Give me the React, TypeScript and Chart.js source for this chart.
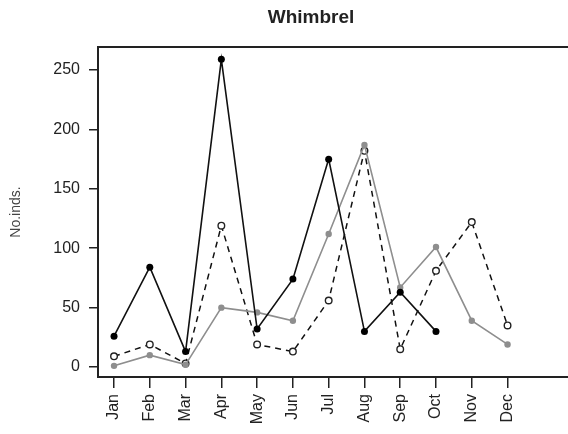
import React, { useEffect, useRef } from "react";
import { Chart, registerables } from "chart.js";

Chart.register(...registerables);

const months = ["Jan", "Feb", "Mar", "Apr", "May", "Jun", "Jul", "Aug", "Sep", "Oct", "Nov", "Dec"];
const blackSeries: (number | null)[] = [26, 84, 13, 259, 32, 74, 175, 30, 63, 30, null, null];
const greySeries: number[] = [1, 10, 2, 50, 46, 39, 112, 187, 67, 101, 39, 19];
const dashedSeries: number[] = [9, 19, 3, 119, 19, 13, 56, 182, 15, 81, 122, 35];
const yTicks = [0, 50, 100, 150, 200, 250];
const chartTitle = "Whimbrel";
const yTitle = "No.inds.";

const toPoints = (arr: (number | null)[]) =>
  arr.map((v, i) => ({ x: i + 1, y: v })).filter((p) => p.y !== null);

const frame = {
  id: "frame",
  afterDraw(chart: any) {
    const { ctx, chartArea } = chart;
    ctx.save();
    ctx.strokeStyle = "#222";
    ctx.lineWidth = 2;
    ctx.beginPath();
    ctx.moveTo(chartArea.left - 1, chartArea.top);
    ctx.lineTo(568, chartArea.top);
    ctx.moveTo(chartArea.right - 1, chartArea.bottom);
    ctx.lineTo(568, chartArea.bottom);
    ctx.stroke();
    ctx.fillStyle = "#222";
    ctx.font = "bold 19px 'Liberation Sans', Arial, sans-serif";
    ctx.textAlign = "center";
    ctx.textBaseline = "middle";
    ctx.fillText(chartTitle, 311, 18);
    ctx.restore();
  },
};

export default function App() {
  const ref = useRef<HTMLCanvasElement>(null);
  useEffect(() => {
    if (!ref.current) return;
    Chart.defaults.font.family = "'Liberation Sans', Arial, sans-serif";
    const chart = new Chart(ref.current, {
      type: "line",
      data: {
        datasets: [
          {
            label: "black",
            data: toPoints(blackSeries) as any,
            borderColor: "#111",
            backgroundColor: "#111",
            borderWidth: 1.6,
            pointRadius: 3.5,
            pointBorderWidth: 0,
            pointBackgroundColor: "#000",
            order: 1,
          },
          {
            label: "grey",
            data: toPoints(greySeries) as any,
            borderColor: "#8e8e8e",
            backgroundColor: "#8e8e8e",
            borderWidth: 1.6,
            pointRadius: 3.2,
            pointBorderWidth: 0,
            pointBackgroundColor: "#8e8e8e",
            order: 2,
          },
          {
            label: "dashed",
            data: toPoints(dashedSeries) as any,
            borderColor: "#111",
            borderDash: [6, 5],
            borderWidth: 1.5,
            pointRadius: 3.3,
            pointBorderWidth: 1.4,
            pointBorderColor: "#222",
            pointBackgroundColor: "#fff",
            order: 3,
          },
        ],
      },
      options: {
        responsive: false,
        animation: false,
        layout: { padding: { top: 47, right: 0, left: 0, bottom: 0 } },
        plugins: { legend: { display: false }, title: { display: false }, tooltip: { enabled: false } },
        scales: {
          x: {
            type: "linear",
            min: 0.552,
            max: 13.539,
            afterBuildTicks: (scale: any) => {
              scale.ticks = months.map((_, i) => ({ value: i + 1 }));
            },
            afterFit: (scale: any) => {
              scale.height = 57;
            },
            ticks: {
              autoSkip: false,
              minRotation: 90,
              maxRotation: 90,
              padding: 6,
              color: "#222",
              font: { size: 16 },
              callback: (v: any) => months[Math.round(v) - 1] ?? "",
            },
            grid: { drawOnChartArea: false, drawTicks: true, tickLength: 11, color: "#222", lineWidth: 1.5 },
            border: { display: true, color: "#222", width: 2 },
          },
          y: {
            type: "linear",
            min: -8.4,
            max: 269.4,
            afterBuildTicks: (scale: any) => {
              scale.ticks = yTicks.map((v) => ({ value: v }));
            },
            afterFit: (scale: any) => {
              scale.width = 98;
            },
            ticks: { padding: 9, color: "#222", font: { size: 16 } },
            grid: { drawOnChartArea: false, drawTicks: true, tickLength: 9, color: "#222", lineWidth: 1.5 },
            border: { display: true, color: "#222", width: 2 },
            title: { display: true, text: yTitle, color: "#444", font: { size: 14 }, padding: { top: 8, bottom: 0 } },
          },
        },
      },
      plugins: [frame],
    });
    return () => chart.destroy();
  }, []);
  return (
    <div style={{ position: "absolute", left: 0, top: 0, width: 568, height: 434, background: "#fff" }}>
      <canvas ref={ref} width={568} height={434} style={{ display: "block" }} />
    </div>
  );
}
